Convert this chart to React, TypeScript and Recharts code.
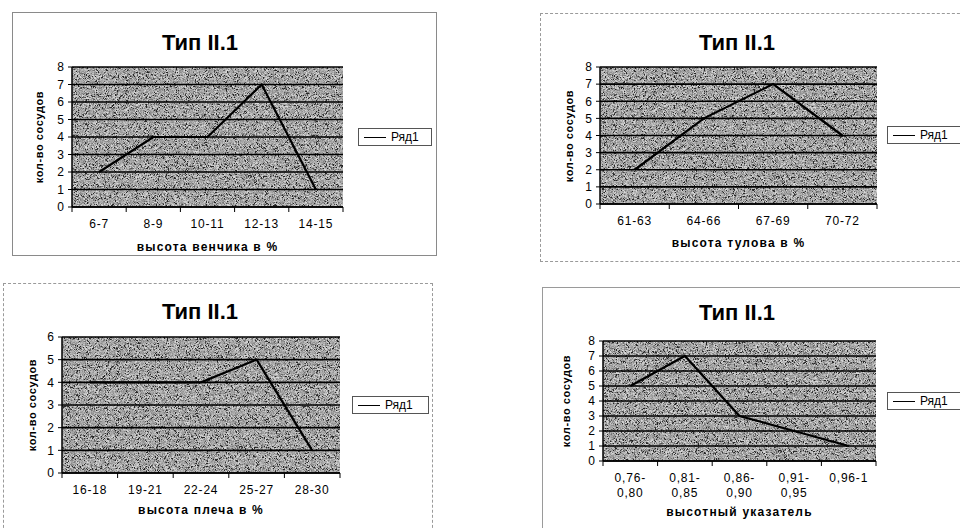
import { LineChart, Line, XAxis, YAxis, CartesianGrid, Legend } from 'recharts'

const title = 'Тип II.1'
const seriesName = 'Ряд1'
const yTitle = 'кол-во сосудов'

const crownCats = ['6-7', '8-9', '10-11', '12-13', '14-15']
const crownCounts = [2, 4, 4, 7, 1]
const bodyCats = ['61-63', '64-66', '67-69', '70-72']
const bodyCounts = [2, 5, 7, 4]
const shoulderCats = ['16-18', '19-21', '22-24', '25-27', '28-30']
const shoulderCounts = [4, 4, 4, 5, 1]
const indexCats = ['0,76-0,80', '0,81-0,85', '0,86-0,90', '0,91-0,95', '0,96-1']
const indexCounts = [5, 7, 3, 2, 1]

const ticks8 = [0, 1, 2, 3, 4, 5, 6, 7, 8]
const ticks6 = [0, 1, 2, 3, 4, 5, 6]

const FONT = '"Liberation Sans", Arial, sans-serif'
const Y_AXIS_W = 30

// page coordinates of each panel: frame, plot area, legend box, text anchors
type Layout = {
  frame: [number, number, number, number]
  plot: [number, number, number, number]
  legend: [number, number, number, number]
  titleX: number
  titleY: number
  labelY: number
  yLabelX: number
  frameStyle: string
}

const layouts: Layout[] = [
  { frame: [12, 12, 425, 244], plot: [72, 67, 343, 207], legend: [358, 128, 74, 18], titleX: 200, titleY: 43, labelY: 247, yLabelX: 39, frameStyle: '1px solid #8a8a8a' },
  { frame: [540, 13, 440, 249], plot: [600, 67, 877, 204], legend: [887, 126, 80, 18], titleX: 737, titleY: 43, labelY: 243, yLabelX: 569, frameStyle: '1px dashed #9a9a9a' },
  { frame: [3, 283, 430, 260], plot: [62, 337, 340, 473], legend: [352, 396, 77, 18], titleX: 200, titleY: 312, labelY: 510, yLabelX: 32, frameStyle: '1px dashed #9a9a9a' },
  { frame: [542, 287, 440, 260], plot: [603, 341, 876, 461], legend: [887, 392, 80, 18], titleX: 737, titleY: 313, labelY: 512, yLabelX: 566, frameStyle: '1px solid #9a9a9a' },
]

function splitLabel(s: string) {
  if (s.length > 6) {
    const i = s.indexOf('-')
    return [s.slice(0, i + 1), s.slice(i + 1)]
  }
  return [s]
}

function makeTick(bw: number, n: number) {
  return (props: any) => {
    const { x, y, payload, index } = props
    const lines = splitLabel(String(payload.value))
    return (
      <g>
        <line x1={x - bw / 2} x2={x - bw / 2} y1={y} y2={y + 5} stroke="#000" />
        {index === n - 1 && <line x1={x + bw / 2} x2={x + bw / 2} y1={y} y2={y + 5} stroke="#000" />}
        {lines.map((l, i) => (
          <text key={i} x={x} y={y + 21 + i * 15} textAnchor="middle" fontSize={12} fill="#000" fontFamily={FONT} letterSpacing={0.8}>
            {l}
          </text>
        ))}
      </g>
    )
  }
}

function Panel({ layout, cats, counts, yMax, yTicks, xLabel }: { layout: Layout; cats: string[]; counts: number[]; yMax: number; yTicks: number[]; xLabel: string }) {
  const [fx, fy, fw, fh] = layout.frame
  const [px0, py0, px1, py1] = layout.plot
  const data = cats.map((c, i) => ({ c, v: counts[i] }))
  const pw = px1 - px0
  const bw = pw / cats.length
  const margin = {
    top: py0 - fy,
    left: px0 - fx - Y_AXIS_W,
    right: fx + fw - px1,
    bottom: fy + fh - py1 - 40,
  }
  const [lx, ly, lw, lh] = layout.legend
  return (
    <>
      <div style={{ position: 'absolute', left: fx, top: fy, width: fw - 2, height: fh - 2, border: layout.frameStyle }} />
      <div style={{ position: 'absolute', left: layout.titleX - 100, top: layout.titleY - 13, width: 200, textAlign: 'center', fontFamily: FONT, fontWeight: 'bold', fontSize: 22, lineHeight: '26px' }}>
        {title}
      </div>
      <div style={{ position: 'absolute', left: (px0 + px1) / 2 - 150, top: layout.labelY - 8, width: 300, textAlign: 'center', fontFamily: FONT, fontWeight: 'bold', fontSize: 12, lineHeight: '16px', letterSpacing: 1.2 }}>
        {xLabel}
      </div>
      <div style={{ position: 'absolute', left: layout.yLabelX - 60, top: (py0 + py1) / 2 - 7, width: 120, textAlign: 'center', fontFamily: FONT, fontWeight: 'bold', fontSize: 11, lineHeight: '14px', letterSpacing: 0.6, transform: 'rotate(-90deg)' }}>
        {yTitle}
      </div>
      <div style={{ position: 'absolute', left: fx, top: fy }}>
        <LineChart width={fw} height={fh} data={data} margin={margin}>
          <CartesianGrid yAxisId="l" vertical={false} stroke="#000" strokeWidth={1.6} fill="url(#grainFill)" fillOpacity={1} />
          <XAxis
            dataKey="c"
            height={40}
            padding={{ left: bw / 2, right: bw / 2 }}
            interval={0}
            tickLine={false}
            tickSize={0}
            tickMargin={0}
            axisLine={{ stroke: '#000', strokeWidth: 1.5 }}
            tick={makeTick(bw, cats.length)}
          />
          <YAxis
            yAxisId="l"
            width={Y_AXIS_W}
            domain={[0, yMax]}
            ticks={yTicks}
            interval={0}
            tickSize={4}
            tickMargin={4}
            tickLine={{ stroke: '#000' }}
            axisLine={{ stroke: '#000', strokeWidth: 1.5 }}
            tick={{ fontSize: 12, fill: '#000', fontFamily: FONT }}
          />
          <YAxis yAxisId="r" orientation="right" width={0} domain={[0, yMax]} tick={false} tickLine={false} axisLine={{ stroke: '#000', strokeWidth: 1.5 }} />
          <Legend
            layout="horizontal"
            verticalAlign="middle"
            align="center"
            wrapperStyle={{ position: 'absolute', left: lx - fx, top: ly - fy, width: lw, height: lh }}
            content={() => (
              <div style={{ boxSizing: 'border-box', width: lw, height: lh, border: '1px solid #555', background: '#fff', display: 'flex', alignItems: 'center', fontFamily: FONT, fontSize: 12 }}>
                <span style={{ display: 'inline-block', width: 22, height: 0, borderTop: '1px solid #000', marginLeft: 5, marginRight: 5 }} />
                <span>{seriesName}</span>
              </div>
            )}
          />
          <Line yAxisId="l" type="linear" dataKey="v" name={seriesName} stroke="#000" strokeWidth={2.2} dot={false} isAnimationActive={false} />
        </LineChart>
      </div>
    </>
  )
}

export default function App() {
  return (
    <div style={{ position: 'absolute', left: 0, top: 0, width: 960, height: 528, overflow: 'hidden', background: '#fff' }}>
      <svg width={0} height={0} style={{ position: 'absolute' }}>
        <defs>
          <filter id="grain" x="0" y="0" width="100%" height="100%">
            <feTurbulence type="fractalNoise" baseFrequency="1.9" numOctaves={1} seed={3} />
            <feColorMatrix type="matrix" values="2.6 0 0 0 -0.85  2.6 0 0 0 -0.85  2.6 0 0 0 -0.85  0 0 0 0 0.7" />
          </filter>
          <pattern id="grainFill" patternUnits="userSpaceOnUse" width={240} height={240}>
            <rect width={240} height={240} fill="#7f7f7f" />
            <rect width={240} height={240} filter="url(#grain)" />
          </pattern>
        </defs>
      </svg>
      <Panel layout={layouts[0]} cats={crownCats} counts={crownCounts} yMax={8} yTicks={ticks8} xLabel="высота венчика в %" />
      <Panel layout={layouts[1]} cats={bodyCats} counts={bodyCounts} yMax={8} yTicks={ticks8} xLabel="высота тулова в %" />
      <Panel layout={layouts[2]} cats={shoulderCats} counts={shoulderCounts} yMax={6} yTicks={ticks6} xLabel="высота плеча в %" />
      <Panel layout={layouts[3]} cats={indexCats} counts={indexCounts} yMax={8} yTicks={ticks8} xLabel="высотный указатель" />
    </div>
  )
}
